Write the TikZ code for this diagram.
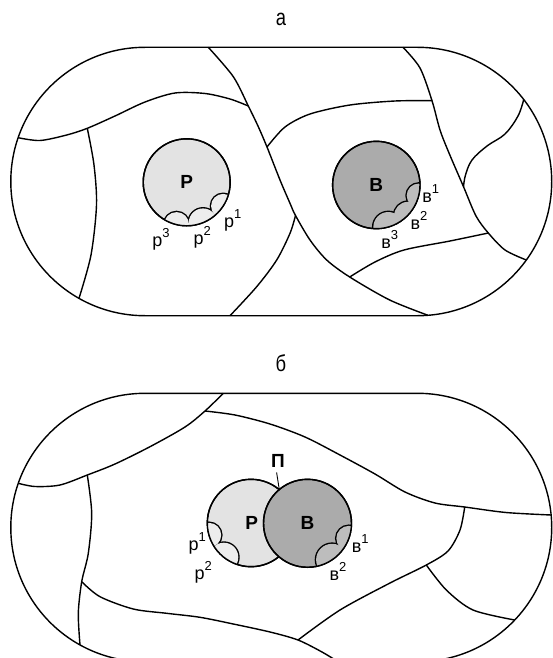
\documentclass[tikz,border=0pt]{standalone}
\usepackage{fontspec}
\setmainfont{Liberation Sans}
\newfontfamily\narrowf{Liberation Sans}[FakeStretch=0.8]
\usetikzlibrary{calc}
\colorlet{pfill}{black!11}
\colorlet{bfill}{black!33}
\colorlet{pcap}{black!7}
\colorlet{bcap}{black!26}
\newcommand\lbl[2]{#1\raisebox{0.95ex}{\fontsize{13}{13}\selectfont #2}}
\begin{document}
\begin{tikzpicture}[x=1pt,y=-1pt, line width=1.4pt, line join=round,
  lab/.style={font=\fontsize{18}{18}\selectfont, inner sep=0pt},
  title/.style={font=\narrowf\fontsize{23}{23}\selectfont, inner sep=0pt},
  bigl/.style={font=\fontsize{19}{19}\selectfont\bfseries, inner sep=0pt},
  disc/.style={circle, draw, inner sep=0pt, font=\fontsize{19}{19}\selectfont\bfseries},
  border/.style={line width=1.4pt},
  curve/.style={line width=1.4pt}]
\useasboundingbox (0,0) rectangle (553,658);
\clip (0,0) rectangle (553,658);
\fill[white] (0,0) rectangle (553,658);

% ================= panel a =================
\node[title] (ta) at (281,19) {а};
\draw[border] (145,47.3) -- (417.5,47.3) arc[start angle=-90,end angle=90,radius=134.2]
  -- (145,315.7) arc[start angle=90,end angle=270,radius=134.2] -- cycle;
\draw[curve] plot[smooth, tension=0.5] coordinates {(18.1,137.7) (40,140.5) (66.7,135) (87.3,128.3) (115,116) (145,102) (175,93) (205,93.5) (230,99) (248.3,106)};
\draw[curve] plot[smooth, tension=0.5] coordinates {(87.3,128.3) (94,165) (96.5,205) (91,255) (79,298.3)};
\draw[curve] plot[smooth, tension=0.5] coordinates {(208.3,47.3) (233.3,76.7) (248.3,106) (258.3,126.7) (267,147) (280,180) (290,203.3) (295.5,215.5) (310,240) (326.7,260) (349.7,277) (389.7,300) (428,315.3)};
\draw[curve] plot[smooth, tension=0.5] coordinates {(267,147) (285,127) (310,114) (350,105) (395,101) (432,100.7)};
\draw[curve] plot[smooth, tension=0.5] coordinates {(230,315.7) (256.7,286.7) (276.7,260) (290,233.3) (295.5,215.5)};
\draw[curve] plot[smooth, tension=0.5] coordinates {(403,47.3) (420,68) (432,100.7) (440,130) (449,153) (463.5,186.7) (476,216) (488.3,233) (505,250) (526.3,260)};
\draw[curve] plot[smooth, tension=0.6] coordinates {(523.7,99.5) (518,116) (505,134) (487,146) (472,160) (465.5,175) (463.5,186.7)};
\draw[curve] plot[smooth, tension=0.5] coordinates {(488.3,233) (450,241) (404,250) (375,262) (349.7,277)};

% circle P (a)
\node[disc, fill=pfill, minimum size=87pt] (Pa) at (186.7,182.3) {Р};
\begin{scope}
  \clip (Pa.center) circle (43.5);
  \foreach \a/\s in {33/12.1, 68/14.2, 103.5/12.5}
    \draw[line width=2.8pt] ($(Pa.center)+(\a:43.5)$) circle (\s);
  \foreach \a/\s in {33/12.1, 68/14.2, 103.5/12.5}
    \fill[pcap] ($(Pa.center)+(\a:43.5)$) circle (\s);
\end{scope}
\draw (Pa.center) circle (43.5);
% circle B (a)
\node[disc, fill=bfill, minimum size=87.4pt] (Ba) at (376.3,185) {В};
\begin{scope}
  \clip (Ba.center) circle (43.7);
  \foreach \a/\s in {14/12, 44/13.5, 74/15}
    \draw[line width=2.8pt] ($(Ba.center)+(\a:43.7)$) circle (\s);
  \foreach \a/\s in {14/12, 44/13.5, 74/15}
    \fill[bcap] ($(Ba.center)+(\a:43.7)$) circle (\s);
\end{scope}
\draw (Ba.center) circle (43.7);

\node[lab] (p3a) at (161,239) {\lbl{р}{3}};
\node[lab] (p2a) at (202.3,237.3) {\lbl{р}{2}};
\node[lab] (p1a) at (232.7,220.7) {\lbl{р}{1}};
\node[lab] (v1a) at (430.7,194) {\lbl{в}{1}};
\node[lab] (v2a) at (419,220.3) {\lbl{в}{2}};
\node[lab] (v3a) at (389.7,239.3) {\lbl{в}{3}};

% ================= panel b =================
\node[title] (tb) at (281,363) {б};
\draw[border] (145,393.3) -- (417.5,393.3) arc[start angle=-90,end angle=90,radius=134.2]
  -- (145,661.7) arc[start angle=90,end angle=270,radius=134.2] -- cycle;
\draw[curve] plot[smooth, tension=0.5] coordinates {(18.3,483.3) (35,486.5) (60,485) (87.3,475) (115,464) (150,446.7) (185,427) (205,411) (223.3,393.3)};
\draw[curve] plot[smooth, tension=0.5] coordinates {(87.3,475) (91.7,513.3) (88.3,553.3) (81.7,581.7) (78.3,613.3) (80,645)};
\draw[curve] plot[smooth, tension=0.5] coordinates {(81.7,581.7) (100,596.7) (133.3,609) (166.7,613.3) (200,617.3) (233.3,624) (270,632) (298,640) (322,652) (338,661.7)};
\draw[curve] plot[smooth, tension=0.5] coordinates {(205,411) (235,415) (270,424) (305,437) (340,455) (375,474) (405,492) (435,503) (464.7,507) (506,512.5) (551.1,515)};
\draw[curve] plot[smooth, tension=0.5] coordinates {(464.7,507) (460,530) (448,551) (426.3,565) (390,583) (340,610) (298,640)};
\draw[curve] plot[smooth, tension=0.5] coordinates {(426.3,565) (446.3,590) (473,610) (514.7,620)};

% circle P (b)
\node[disc, fill=pfill, minimum size=87.4pt] (Pb) at (251,523) {};
\begin{scope}
  \clip (Pb.center) circle (43.7);
  \foreach \a/\s in {164/12.2, 128.5/14.5}
    \draw[line width=2.8pt] ($(Pb.center)+(\a:43.7)$) circle (\s);
  \foreach \a/\s in {164/12.2, 128.5/14.5}
    \fill[pcap] ($(Pb.center)+(\a:43.7)$) circle (\s);
\end{scope}
\draw (Pb.center) circle (43.7);
% circle B (b)
\node[disc, fill=bfill, minimum size=88pt] (Bb) at (307.5,523.3) {В};
\begin{scope}
  \clip (Bb.center) circle (44);
  \foreach \a/\s in {20/12.5, 56/16}
    \draw[line width=2.8pt] ($(Bb.center)+(\a:44)$) circle (\s);
  \foreach \a/\s in {20/12.5, 56/16}
    \fill[bcap] ($(Bb.center)+(\a:44)$) circle (\s);
\end{scope}
\draw (Bb.center) circle (44);
\node[bigl] (Pl) at (251.7,523.3) {Р};

\node[bigl] (Pi) at (278,461) {П};
\coordinate (X) at (279.2,489);
\draw[line width=0.9pt] (276.6,472.5) -- (X);

\node[lab] (p1b) at (197.3,543.3) {\lbl{р}{1}};
\node[lab] (p2b) at (203.3,572.7) {\lbl{р}{2}};
\node[lab] (v1b) at (360.3,544) {\lbl{в}{1}};
\node[lab] (v2b) at (338,571.7) {\lbl{в}{2}};
\end{tikzpicture}
\end{document}
